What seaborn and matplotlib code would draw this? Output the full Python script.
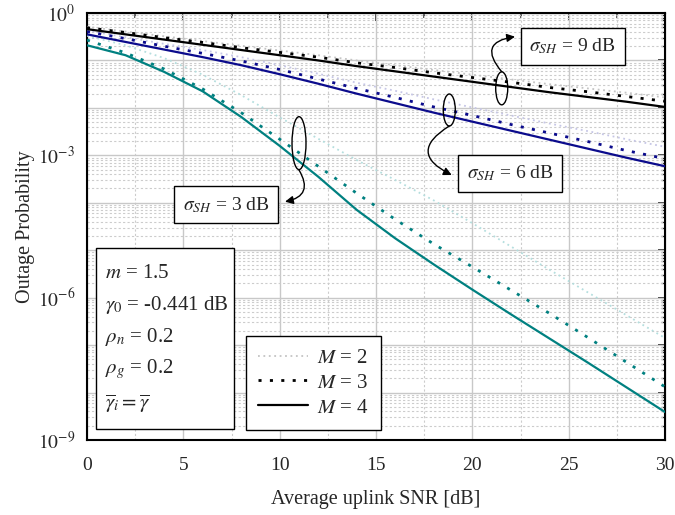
import matplotlib
matplotlib.use("Agg")
import matplotlib.pyplot as plt
import numpy as np
import pandas as pd
import seaborn as sns
from matplotlib.lines import Line2D
from matplotlib.patches import Ellipse, Rectangle
from matplotlib.ticker import FixedLocator, FuncFormatter, NullFormatter

sns.set_style("white")
plt.rcParams["font.family"] = ["Liberation Serif", "DejaVu Serif"]
plt.rcParams["mathtext.fontset"] = "stix"

# average uplink SNR [dB]
snr = [0, 2, 4, 6, 8, 10, 12, 14, 16, 18, 20, 22, 24, 26, 28, 30]

# log10(outage probability)
s9_m2 = [-0.29, -0.39, -0.49, -0.59, -0.69, -0.79, -0.89, -1.00, -1.10, -1.20, -1.30, -1.40, -1.50, -1.59, -1.68, -1.78]
s9_m3 = [-0.31, -0.41, -0.52, -0.62, -0.73, -0.83, -0.93, -1.05, -1.15, -1.26, -1.36, -1.46, -1.57, -1.66, -1.76, -1.86]
s9_m4 = [-0.34, -0.45, -0.56, -0.67, -0.78, -0.89, -1.00, -1.12, -1.23, -1.34, -1.45, -1.56, -1.67, -1.77, -1.87, -1.98]

s6_m2 = [-0.37, -0.51, -0.65, -0.78, -0.93, -1.10, -1.28, -1.47, -1.64, -1.82, -1.99, -2.16, -2.33, -2.49, -2.66, -2.82]
s6_m3 = [-0.39, -0.54, -0.70, -0.85, -1.01, -1.19, -1.39, -1.59, -1.78, -1.98, -2.16, -2.35, -2.53, -2.71, -2.90, -3.07]
s6_m4 = [-0.45, -0.61, -0.77, -0.93, -1.10, -1.29, -1.49, -1.70, -1.90, -2.10, -2.29, -2.48, -2.67, -2.86, -3.05, -3.23]

s3_m2 = [-0.48, -0.68, -0.95, -1.30, -1.73, -2.20, -2.65, -3.10, -3.52, -3.95, -4.43, -4.92, -5.41, -5.89, -6.37, -6.85]
s3_m3 = [-0.57, -0.84, -1.18, -1.60, -2.10, -2.66, -3.23, -3.80, -4.35, -4.87, -5.35, -5.84, -6.33, -6.84, -7.36, -7.88]
s3_m4 = [-0.68, -0.89, -1.24, -1.65, -2.19, -2.80, -3.45, -4.15, -4.75, -5.30, -5.83, -6.35, -6.86, -7.37, -7.89, -8.41]

curves = [
    ("9", 2, s9_m2), ("9", 3, s9_m3), ("9", 4, s9_m4),
    ("6", 2, s6_m2), ("6", 3, s6_m3), ("6", 4, s6_m4),
    ("3", 2, s3_m2), ("3", 3, s3_m3), ("3", 4, s3_m4),
]
rows = []
for sig, m, vals in curves:
    for x, v in zip(snr, vals):
        rows.append({"sigma": sig, "M": m, "snr": x, "pout": 10.0 ** v})
df = pd.DataFrame(rows)

colors = {"9": "#000000", "6": "#0b0b8c", "3": "#008080"}
pale = {"9": "#c4c4c4", "6": "#c6c6e6", "3": "#b4dede"}
dots = (0, (1.1, 3.0))

fig = plt.figure(figsize=(6.75, 5.15), dpi=100)
ax = fig.add_axes([87 / 675, 75 / 515, 578 / 675, 427 / 515])

for (sig, m), d in df.groupby(["sigma", "M"]):
    if m == 2:
        sns.lineplot(data=d, x="snr", y="pout", ax=ax, color=pale[sig], lw=1.3,
                     linestyle=(0, (1, 2)), zorder=3)
    elif m == 3:
        sns.lineplot(data=d, x="snr", y="pout", ax=ax, color=colors[sig], lw=2.0,
                     linestyle=dots, zorder=4)
    else:
        sns.lineplot(data=d, x="snr", y="pout", ax=ax, color=colors[sig], lw=1.6, zorder=5)

ax.set_yscale("log")
ax.set_xlim(0, 30)
ax.set_ylim(1e-9, 1)

ax.xaxis.set_major_locator(FixedLocator([0, 5, 10, 15, 20, 25, 30]))
ax.xaxis.set_minor_locator(FixedLocator(np.arange(2.5, 30, 5)))
ax.yaxis.set_major_locator(FixedLocator([10.0 ** k for k in range(-9, 1)]))
ax.yaxis.set_minor_locator(FixedLocator([j * 10.0 ** k for k in range(-9, 0) for j in range(2, 10)]))
ax.yaxis.set_major_formatter(FuncFormatter(
    lambda v, p: r"$10^{%d}$" % round(np.log10(v)) if round(np.log10(v)) % 3 == 0 else ""))
ax.yaxis.set_minor_formatter(NullFormatter())

ax.grid(which="major", color="#c8c8c8", lw=1.0, ls="-")
ax.grid(which="minor", color="#cccccc", lw=0.8, ls=(0, (2, 2)))
ax.set_axisbelow(True)

for s in ax.spines.values():
    s.set_linewidth(1.5)
    s.set_color("black")

ax.tick_params(axis="x", which="major", direction="out", length=6, width=1.3, labelsize=14, pad=6)
ax.tick_params(axis="x", which="minor", direction="out", length=3.5, width=1.1)
ax.tick_params(axis="y", which="major", direction="out", length=5, width=1.3, labelsize=14)
ax.tick_params(axis="y", which="minor", direction="in", length=3, width=0.9)

top = ax.secondary_xaxis("top")
top.set_xticks([0, 5, 10, 15, 20, 25, 30])
top.xaxis.set_minor_locator(FixedLocator(np.arange(2.5, 30, 5)))
top.tick_params(which="major", direction="in", length=6, width=1.3, labeltop=False)
top.tick_params(which="minor", direction="in", length=3.5, width=1.1)
right = ax.secondary_yaxis("right")
right.yaxis.set_major_locator(FixedLocator([10.0 ** k for k in range(-9, 1)]))
right.yaxis.set_minor_locator(FixedLocator([j * 10.0 ** k for k in range(-9, 0) for j in range(2, 10)]))
right.tick_params(which="major", direction="in", length=5, width=1.3, labelright=False)
right.tick_params(which="minor", direction="in", length=3, width=0.9, labelright=False)

ax.set_xlabel("Average uplink SNR [dB]", fontsize=14.5, labelpad=12)
ax.set_ylabel("Outage Probability", fontsize=14.5, labelpad=2)

# shadowing annotations
box = dict(boxstyle="square,pad=0.45", fc="white", ec="black", lw=1.0)
ax.text(25.2, 10 ** -0.70, r"$\sigma_{SH}$ = 9 dB", fontsize=14, ha="center", va="center", bbox=box, zorder=7)
ax.text(21.95, 10 ** -3.38, r"$\sigma_{SH}$ = 6 dB", fontsize=14, ha="center", va="center", bbox=box, zorder=7)
ax.text(7.23, 10 ** -4.04, r"$\sigma_{SH}$ = 3 dB", fontsize=14, ha="center", va="center", bbox=box, zorder=7)

for cx, cy, w, h in [(0.7175, 0.8236, 0.0208, 0.0773), (0.6268, 0.7728, 0.0208, 0.075),
                     (0.3668, 0.6952, 0.0242, 0.124)]:
    ax.add_patch(Ellipse((cx, cy), w, h, transform=ax.transAxes, fill=False, ec="black", lw=1.0, zorder=6))

arrow = dict(arrowstyle="-|>", color="black", lw=1.0, mutation_scale=12, shrinkA=0, shrinkB=0)
ax.annotate("", xy=(0.7405, 0.9445), xytext=(0.7175, 0.8625), xycoords="axes fraction",
            arrowprops=dict(arrow, connectionstyle="arc3,rad=-0.9"), zorder=6)
ax.annotate("", xy=(0.631, 0.6206), xytext=(0.6268, 0.7354), xycoords="axes fraction",
            arrowprops=dict(arrow, connectionstyle="arc3,rad=0.9"), zorder=6)
ax.annotate("", xy=(0.3426, 0.5581), xytext=(0.3668, 0.6323), xycoords="axes fraction",
            arrowprops=dict(arrow, connectionstyle="arc3,rad=-0.7"), zorder=6)

# parameter box
ax.add_patch(Rectangle((0.0156, 0.0248), 0.2387, 0.4248, transform=ax.transAxes,
                       fc="white", ec="black", lw=1.0, zorder=7))
params = [r"$m$ = 1.5", r"$\gamma_0$ = -0.441 dB", r"$\rho_n$ = 0.2", r"$\rho_g$ = 0.2",
          r"$\overline{\gamma}_i = \overline{\gamma}$"]
for t, yy in zip(params, [0.391, 0.317, 0.242, 0.165, 0.085]):
    ax.text(0.031, yy, t, transform=ax.transAxes, fontsize=15, va="center", ha="left", zorder=8)

handles = [Line2D([], [], color="#c4c4c4", lw=1.3, ls=(0, (1, 2))),
           Line2D([], [], color="black", lw=2.0, ls=dots),
           Line2D([], [], color="black", lw=1.6)]
leg = ax.legend(handles, [r"$M$ = 2", r"$M$ = 3", r"$M$ = 4"], loc="lower left",
                bbox_to_anchor=(0.2746, 0.0234), fontsize=15, frameon=True, fancybox=False,
                borderaxespad=0, handlelength=2.4, handletextpad=0.4, labelspacing=0.25,
                borderpad=0.6)
leg.get_frame().set_edgecolor("black")
leg.get_frame().set_linewidth(1.0)
leg.get_frame().set_alpha(1)
leg.set_zorder(8)

fig.savefig("out.png", dpi=100)
